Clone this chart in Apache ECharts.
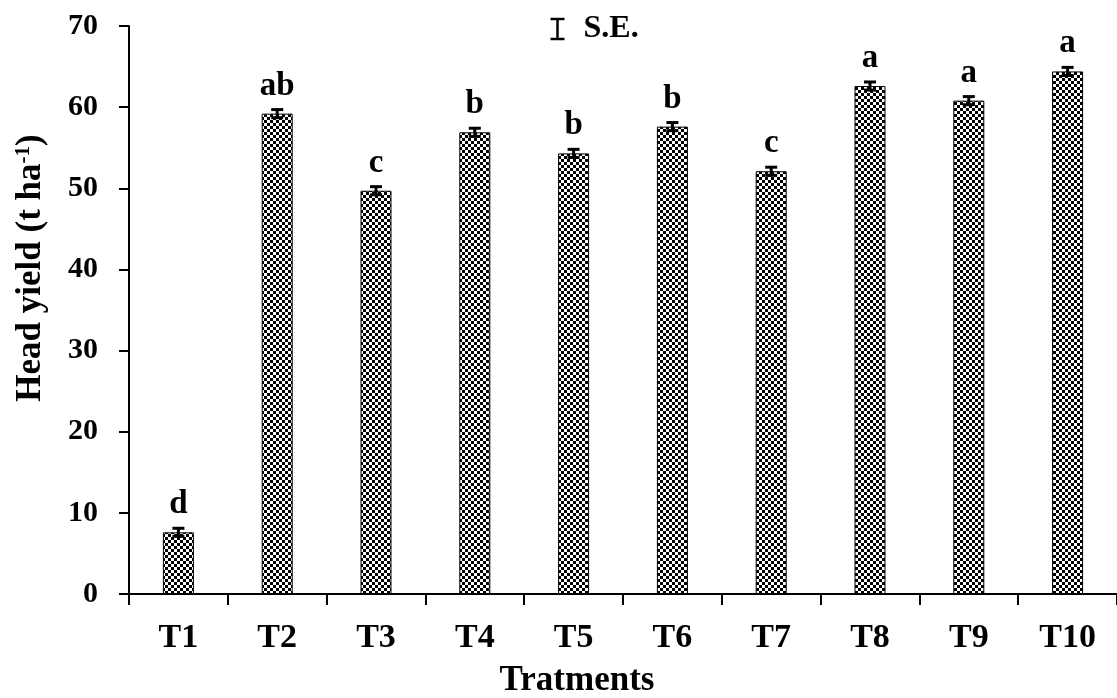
<!DOCTYPE html>
<html>
<head>
<meta charset="utf-8">
<script src="https://cdn.jsdelivr.net/npm/echarts@6/dist/echarts.min.js"></script>
<style>
  html, body { margin: 0; padding: 0; background: #fff; }
  #chart { width: 1117px; height: 698px; }
</style>
</head>
<body>
<div id="chart"></div>
<script>
(function () {
    const categories = ['T1', 'T2', 'T3', 'T4', 'T5', 'T6', 'T7', 'T8', 'T9', 'T10'];
    const yieldValues = [7.6, 59.2, 49.7, 56.9, 54.3, 57.6, 52.1, 62.6, 60.8, 64.4];
    const seValues = [0.5, 0.5, 0.5, 0.5, 0.5, 0.5, 0.5, 0.5, 0.5, 0.5];
    const letters = ['d', 'ab', 'c', 'b', 'b', 'b', 'c', 'a', 'a', 'a'];
    const yTicks = [0, 10, 20, 30, 40, 50, 60, 70];

    const font = 'Liberation Serif';

    // checkerboard fill for the bars
    const pat = document.createElement('canvas');
    pat.width = 6;
    pat.height = 6;
    const ctx = pat.getContext('2d');
    ctx.fillStyle = '#fff';
    ctx.fillRect(0, 0, 6, 6);
    ctx.fillStyle = '#000';
    ctx.fillRect(0, 0, 3, 3);
    ctx.fillRect(3, 3, 3, 3);

    const errData = yieldValues.map((v, i) => [i, v, seValues[i]]);

    const chart = echarts.init(document.getElementById('chart'));
    const option = {
        backgroundColor: '#fff',
        animation: false,
        grid: { left: 129, right: 0, top: 26, bottom: 104, outerBoundsMode: 'none' },
        graphic: [
            {
                type: 'group', left: 548, top: 13,
                children: [
                    { type: 'line', shape: { x1: 0, y1: 1, x2: 14, y2: 1 }, style: { stroke: '#000', lineWidth: 2.5 } },
                    { type: 'line', shape: { x1: 7, y1: 1, x2: 7, y2: 21 }, style: { stroke: '#000', lineWidth: 2.5 } },
                    { type: 'line', shape: { x1: 0, y1: 21, x2: 14, y2: 21 }, style: { stroke: '#000', lineWidth: 2.5 } },
                    { type: 'text', x: 33, y: -5, style: { text: 'S.E.', font: 'bold 32px "Liberation Serif"', fill: '#000' } }
                ]
            },
            {
                type: 'text',
                x: 31, y: 268,
                rotation: Math.PI / 2,
                style: {
                    text: '{a|Head yield (t ha}{s|-1}{a|)}',
                    align: 'center',
                    verticalAlign: 'middle',
                    rich: {
                        a: { fontFamily: font, fontWeight: 'bold', fontSize: 35, fill: '#000' },
                        s: { fontFamily: font, fontWeight: 'bold', fontSize: 21, fill: '#000', verticalAlign: 'top', padding: [0, 0, 14, 0] }
                    }
                }
            },
            {
                type: 'text',
                x: 577, y: 681,
                style: {
                    text: 'Tratments',
                    align: 'center',
                    verticalAlign: 'middle',
                    font: 'bold 35px "Liberation Serif"',
                    fill: '#000'
                }
            }
        ],
        xAxis: {
            type: 'category',
            data: categories,
            axisLine: { lineStyle: { color: '#000', width: 2 } },
            axisTick: { show: true, length: 11, lineStyle: { color: '#000', width: 2 } },
            axisLabel: { fontFamily: font, fontWeight: 'bold', fontSize: 34, color: '#000', margin: 27 }
        },
        yAxis: {
            type: 'value',
            min: yTicks[0],
            max: yTicks[yTicks.length - 1],
            interval: 10,
            splitLine: { show: false },
            axisLine: { show: true, lineStyle: { color: '#000', width: 2 } },
            axisTick: { show: true, length: 10, lineStyle: { color: '#000', width: 2 } },
            axisLabel: { fontFamily: font, fontWeight: 'bold', fontSize: 30, color: '#000', margin: 31 }
        },
        series: [
            {
                type: 'bar',
                data: yieldValues,
                barWidth: 31,
                itemStyle: {
                    color: { image: pat, repeat: 'repeat' },
                    borderColor: '#000',
                    borderWidth: 1
                },
                label: {
                    show: true,
                    position: 'top',
                    distance: 11,
                    formatter: (p) => letters[p.dataIndex],
                    fontFamily: font,
                    fontWeight: 'bold',
                    fontSize: 33,
                    color: '#000'
                }
            },
            {
                type: 'custom',
                data: errData,
                z: 10,
                renderItem: function (params, api) {
                    const i = api.value(0);
                    const m = api.value(1);
                    const se = api.value(2);
                    const hi = api.coord([i, m + se]);
                    const lo = api.coord([i, m - se]);
                    const hw = 6;
                    const st = { stroke: '#000', lineWidth: 3 };
                    return {
                        type: 'group',
                        children: [
                            { type: 'line', shape: { x1: hi[0], y1: hi[1], x2: lo[0], y2: lo[1] }, style: st },
                            { type: 'line', shape: { x1: hi[0] - hw, y1: hi[1], x2: hi[0] + hw, y2: hi[1] }, style: st },
                            { type: 'line', shape: { x1: lo[0] - hw, y1: lo[1], x2: lo[0] + hw, y2: lo[1] }, style: st }
                        ]
                    };
                }
            }
        ]
    };
    chart.setOption(option);
})();
</script>
</body>
</html>
